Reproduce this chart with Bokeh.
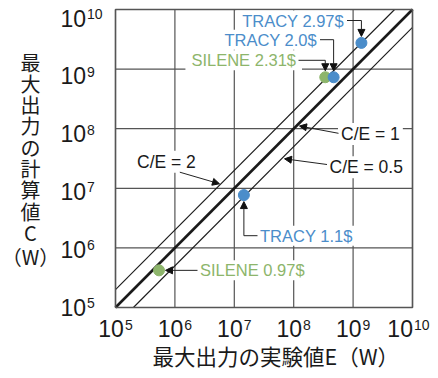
import numpy as np
from bokeh.plotting import figure
from bokeh.models import Range1d, Label, Arrow, NormalHead, ColumnDataSource
from bokeh.embed import file_html
from bokeh.resources import INLINE

# ---------------- data ----------------
point_labels = ["SILENE 0.97$", "TRACY 1.1$", "SILENE 2.31$", "TRACY 2.0$", "TRACY 2.97$"]
point_series = ["SILENE", "TRACY", "SILENE", "TRACY", "TRACY"]
E_experiment = [5.4e5, 1.45e7, 3.4e8, 4.7e8, 1.38e9]
C_calculated = [4.2e5, 7.7e6, 7.3e8, 7.3e8, 2.75e9]
ce_ratios = [1.0, 2.0, 0.5]
ce_labels = ["C/E = 1", "C/E = 2", "C/E = 0.5"]
decades = [5, 6, 7, 8, 9, 10]
x_title = "最大出力の実験値E（W）"
y_title_chars = ["最", "大", "出", "力", "の", "計", "算", "値", "C", "（W）"]

series_colors = {"SILENE": "#8db56b", "TRACY": "#4b8dca"}

# ---------------- geometry (pixels) ----------------
W, H = 430, 370
FL, FT, FW, FH = 115, 9, 297, 298     # plot box inside the canvas
FB = FT + FH
LO, HI = decades[0], decades[-1]
NDEC = HI - LO
LAT = "Liberation Sans"
CJK = "Noto Sans CJK JP"
INK = "#1a1a1a"


def PX(x):
    return FL + FW * (np.log10(x) - LO) / NDEC


def PY(y):
    return FB - FH * (np.log10(y) - LO) / NDEC


def X(px):
    return 10 ** (LO + NDEC * (px - FL) / FW)


def Y(py):
    return 10 ** (LO + NDEC * (FB - py) / FH)


p = figure(width=W, height=H, x_axis_type="log", y_axis_type="log",
           x_range=Range1d(X(0), X(W)), y_range=Range1d(Y(H), Y(0)),
           x_axis_location=None, y_axis_location=None,
           toolbar_location=None, output_backend="svg",
           min_border=0, min_border_left=0, min_border_right=0,
           min_border_top=0, min_border_bottom=0)
p.outline_line_color = None
p.background_fill_color = "white"
p.border_fill_color = "white"
p.grid.visible = False

lo_v, hi_v = 10.0 ** LO, 10.0 ** HI
tick_vals = [10.0 ** d for d in decades]

# grid lines inside the plot box
p.segment(x0=tick_vals, y0=[lo_v] * len(tick_vals), x1=tick_vals, y1=[hi_v] * len(tick_vals),
          line_color="#555555", line_width=1.2)
p.segment(x0=[lo_v] * len(tick_vals), y0=tick_vals, x1=[hi_v] * len(tick_vals), y1=tick_vals,
          line_color="#555555", line_width=1.2)

# ratio lines, clipped to the box
for r in ce_ratios:
    e0, e1 = max(lo_v, lo_v / r), min(hi_v, hi_v / r)
    p.line([e0, e1], [r * e0, r * e1], line_color=INK,
           line_width=2.6 if r == 1.0 else 1.1)

# frame
p.quad(left=[lo_v], right=[hi_v], bottom=[lo_v], top=[hi_v], fill_color=None,
       line_color="#555555", line_width=1.5)

# points
src = ColumnDataSource(dict(E=E_experiment, C=C_calculated,
                            color=[series_colors[s] for s in point_series]))
p.scatter(x="E", y="C", source=src, size=11, fill_color="color", line_color="color")


def label(text, px, cy, size, color, align="left", font=LAT, pad=0):
    """px: text edge (left/right/center), cy: vertical centre of the text."""
    kw = {}
    if pad:
        kw.update(background_fill_color="white", background_fill_alpha=1.0,
                  padding=dict(left=pad, right=pad, top=1, bottom=1))
        px = px - pad if align == "left" else (px + pad if align == "right" else px)
    p.add_layout(Label(x=px, y=H - cy, x_units="screen", y_units="screen",
                       text=text, text_font=font, text_font_size=f"{size}px",
                       text_line_height=1.0,
                       text_color=color, text_align=align, text_baseline="middle", **kw))


def seg(p0, p1, head=False):
    p.add_layout(Arrow(x_start=X(p0[0]), y_start=Y(p0[1]), x_end=X(p1[0]), y_end=Y(p1[1]),
                       line_color="#222222", line_width=1,
                       end=NormalHead(size=7, fill_color="#111111", line_color="#111111",
                                      line_width=1) if head else None))


# tick labels (10 with superscript exponent)
for d in decades:
    main, sup = "10", str(d)
    wmain = 1.112 * 23
    total = wmain + 1 + 0.556 * 14 * len(sup)
    tx = PX(10.0 ** d)
    x0 = min(tx - total / 2, W - 1 - total)
    label(main, x0, 328.3, 23, INK)
    label(sup, x0 + wmain + 1, 324.0, 14, INK)
    cy = PY(10.0 ** d) + 1.7 * (d - LO)
    label(main, 60, cy, 23, INK)
    label(sup, 60 + wmain + 1, cy - 4.3, 14, INK)

# axis titles
label(x_title, 152, 354.5, 21.5, INK, font=CJK)
for i, ch in enumerate(y_title_chars):
    cy = 62.5 + 21.3 * i + (3 if i == len(y_title_chars) - 1 else 0)
    label(ch, 30, cy - 1, 20, INK, align="center", font=CJK)

# ratio labels
ce_layout = {"C/E = 1": ((340.5, 133.5), (338, 132.8), (299, 125.5)),
             "C/E = 2": ((136.5, 161.2), (179.3, 171.7), (219, 183.3)),
             "C/E = 0.5": ((329, 166.8), (326.5, 164), (284, 158.3))}
for t in ce_labels:
    (lx, ly), a0, a1 = ce_layout[t]
    label(t, lx, ly, 17.5, INK, pad=3)
for t in ce_labels:
    _, a0, a1 = ce_layout[t]
    seg(a0, a1, head=True)

# point labels with elbow connectors
r_px = 6.5
pts = [(PX(e), PY(c)) for e, c in zip(E_experiment, C_calculated)]
layout = {
    4: ("right", 343.5, 20.0, 346.5, "down"),
    3: ("right", 316.5, 39.2, 319.5, "down"),
    2: ("right", 295.5, 59.8, 298.0, "down"),
    1: ("left", 259.5, 235.2, 257.0, "up"),
    0: ("left", 199.5, None, 197.0, "left"),
}
for i, txt in enumerate(point_labels):
    align, lx, cy, sx, kind = layout[i]
    px_, py_ = pts[i]
    if cy is None:
        cy = py_
    label(txt, lx, cy, 16.5, series_colors[point_series[i]], align=align, pad=6)
for i in range(len(point_labels)):
    align, lx, cy, sx, kind = layout[i]
    px_, py_ = pts[i]
    if kind == "left":
        seg((sx, py_), (px_ + r_px, py_), head=True)
    else:
        seg((sx, cy), (px_, cy))
        tip = py_ - r_px if kind == "down" else py_ + r_px
        seg((px_, cy), (px_, tip), head=True)

open("out.html", "w").write(file_html(p, INLINE))
